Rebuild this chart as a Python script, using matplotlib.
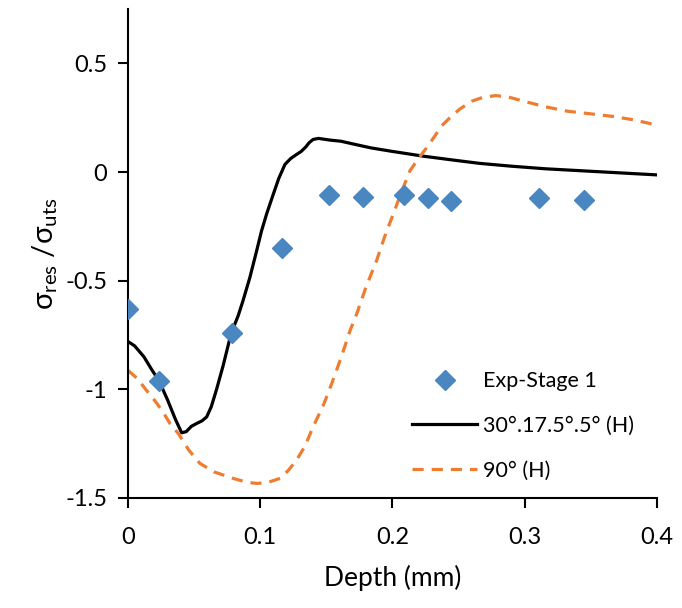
import matplotlib
matplotlib.use('Agg')
import matplotlib.pyplot as plt

plt.rcParams['font.family'] = ['Lato', 'DejaVu Sans']
plt.rcParams['mathtext.default'] = 'regular'

# Experimental points
exp_depth = [0.0, 0.0234, 0.0786, 0.1164, 0.152, 0.178, 0.209, 0.227, 0.244, 0.311, 0.345]
exp_stress = [-0.63, -0.96, -0.74, -0.35, -0.105, -0.115, -0.105, -0.119, -0.133, -0.119, -0.128]

# 30°.17.5°.5° (H) simulation
sim1_depth = [0.0, 0.005, 0.012, 0.018, 0.0234, 0.03, 0.036, 0.0406, 0.044, 0.048,
              0.052, 0.056, 0.0595, 0.063, 0.067, 0.072, 0.078, 0.0834, 0.087,
              0.0922, 0.097, 0.101, 0.105, 0.1099, 0.114, 0.1187, 0.123, 0.1275,
              0.131, 0.1344, 0.137, 0.140, 0.144, 0.153, 0.161, 0.172, 0.184, 0.2,
              0.2235, 0.245, 0.266, 0.29, 0.316, 0.34, 0.37, 0.4]
sim1_stress = [-0.78, -0.80, -0.85, -0.91, -0.96, -1.05, -1.14, -1.20, -1.195, -1.17,
               -1.157, -1.145, -1.127, -1.08, -1.0, -0.89, -0.743, -0.66, -0.592,
               -0.485, -0.37, -0.271, -0.19, -0.102, -0.03, 0.035, 0.062, 0.081,
               0.095, 0.115, 0.135, 0.150, 0.155, 0.147, 0.142, 0.127, 0.111, 0.095,
               0.073, 0.056, 0.040, 0.027, 0.015, 0.007, -0.003, -0.013]

# 90° (H) simulation
sim2_depth = [0.0, 0.007, 0.014, 0.02, 0.026, 0.032, 0.038, 0.046, 0.0544, 0.065,
              0.0796, 0.09, 0.0973, 0.105, 0.115, 0.121, 0.1275, 0.134, 0.140,
              0.148, 0.155, 0.162, 0.168, 0.173, 0.18, 0.188, 0.194, 0.2006, 0.207,
              0.2132, 0.22, 0.2258, 0.232, 0.237, 0.2433, 0.251, 0.26, 0.268, 0.278,
              0.288, 0.2994, 0.316, 0.3325, 0.35, 0.3655, 0.383, 0.4]
sim2_stress = [-0.913, -0.95, -1.005, -1.05, -1.10, -1.16, -1.203, -1.28, -1.341, -1.38,
               -1.41, -1.428, -1.433, -1.43, -1.41, -1.375, -1.326, -1.26, -1.173,
               -1.07, -0.959, -0.84, -0.729, -0.653, -0.53, -0.408, -0.30, -0.194, -0.09,
               0.005, 0.065, 0.111, 0.165, 0.211, 0.249, 0.29, 0.326, 0.343, 0.352,
               0.345, 0.326, 0.30, 0.28, 0.268, 0.257, 0.24, 0.216]


def main():
    fig = plt.figure(figsize=(6.82, 6.08), dpi=100)
    ax = fig.add_axes([0.1877, 0.181, 0.7753, 0.804])

    ax.plot(exp_depth, exp_stress, linestyle='none', marker='D', markersize=10,
            color='#4A86BF', label='Exp-Stage 1', zorder=3)
    ax.plot(sim1_depth, sim1_stress, color='black', linewidth=2.3,
            solid_joinstyle='round', label='30°.17.5°.5° (H)')
    ax.plot(sim2_depth, sim2_stress, color='#ED7D31', linewidth=2.3,
            dashes=(3.5, 2.5), label='90° (H)')

    ax.set_xlim(0, 0.4)
    ax.set_ylim(-1.5, 0.75)
    ax.set_xticks([0, 0.1, 0.2, 0.3, 0.4])
    ax.set_xticklabels(['0', '0.1', '0.2', '0.3', '0.4'])
    ax.set_yticks([-1.5, -1, -0.5, 0, 0.5])
    ax.set_yticklabels(['-1.5', '-1', '-0.5', '0', '0.5'])

    for s in ['top', 'right']:
        ax.spines[s].set_visible(False)
    for s in ['left', 'bottom']:
        ax.spines[s].set_linewidth(1.5)
    ax.tick_params(direction='out', length=7, width=1.5, labelsize=17, pad=8)
    ax.tick_params(axis='x', pad=14)

    ax.set_xlabel('Depth (mm)', fontsize=19, labelpad=12)
    ax.set_ylabel(r'$\sigma_{res}$ /$\sigma_{uts}$', fontsize=21, labelpad=4)

    ax.legend(loc='lower right', bbox_to_anchor=(0.99, 0.0), frameon=False,
              fontsize=15.5, handlelength=3.0, labelspacing=1.15, handletextpad=0.3,
              borderaxespad=0.4)

    fig.savefig('out.png', dpi=100, facecolor='white')
    plt.close(fig)


if __name__ == "__main__":
    main()
